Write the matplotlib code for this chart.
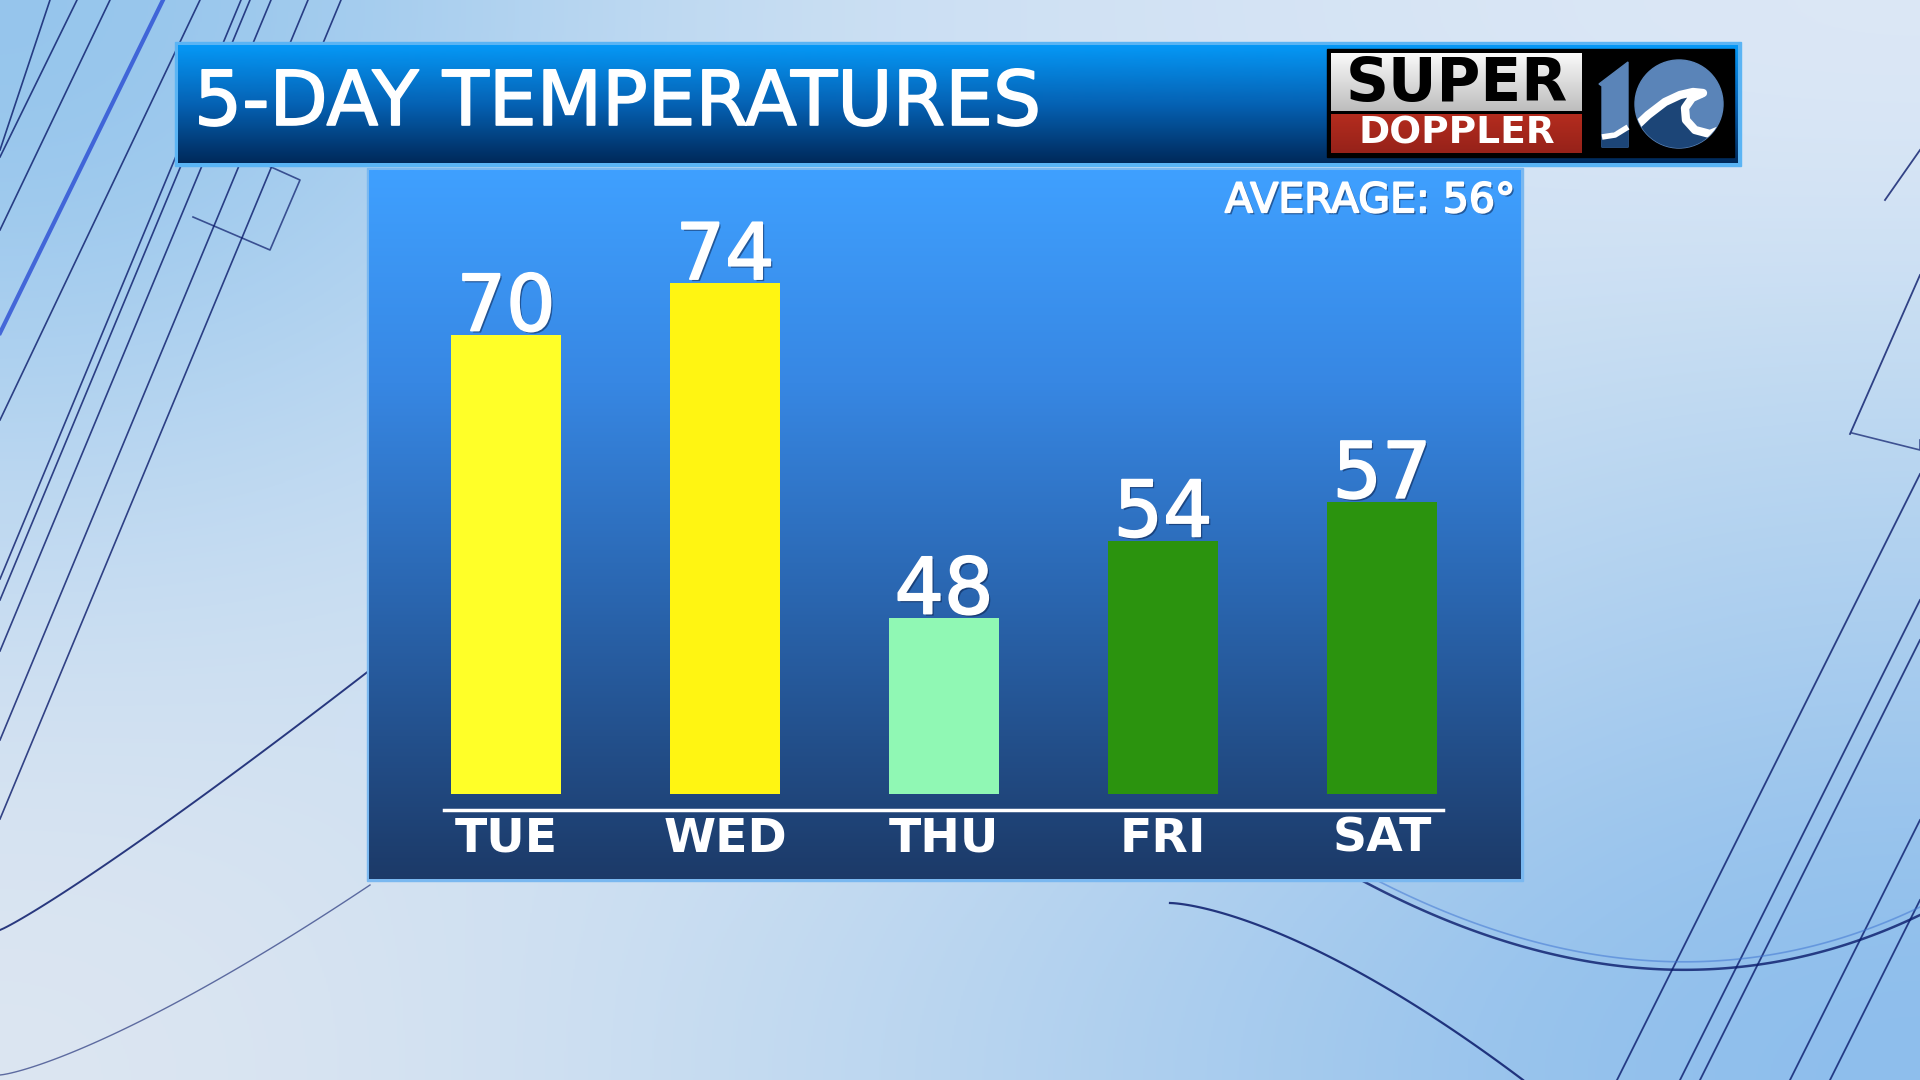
import numpy as np
import matplotlib.pyplot as plt
import matplotlib.patheffects as pe
from matplotlib.colors import LinearSegmentedColormap, to_rgb
from matplotlib.patches import Rectangle, Circle, Polygon

days = ['TUE', 'WED', 'THU', 'FRI', 'SAT']
temps = [70, 74, 48, 54, 57]
bar_colors = ['#ffff28', '#fff512', '#90f8b4', '#2b930e', '#2b930e']
avg_temp = 56
title = '5-DAY TEMPERATURES'

W, H = 1920, 1080
fig = plt.figure(figsize=(19.2, 10.8), dpi=100)

# background canvas in pixel coords (y down)
bg = fig.add_axes([0, 0, 1, 1])
bg.set_xlim(0, W); bg.set_ylim(H, 0); bg.axis('off')

grid = np.array([
    [to_rgb('#93c4ec'), to_rgb('#c8def3'), to_rgb('#d4e3f4'), to_rgb('#dde8f6')],
    [to_rgb('#b2d3f0'), to_rgb('#cfe1f3'), to_rgb('#cde0f3'), to_rgb('#bcd8f1')],
    [to_rgb('#cfe0f2'), to_rgb('#d3e3f3'), to_rgb('#bcd7f1'), to_rgb('#a6cbee')],
    [to_rgb('#dde6f2'), to_rgb('#c6dcf1'), to_rgb('#aacdee'), to_rgb('#8cbdec')],
])
bg.imshow(grid, extent=[0, W, H, 0], interpolation='bicubic', aspect='auto', zorder=0)

# decorative lines
navy = '#0a1a6a'
left_lines = [((0, 150), (50, 0)), ((0, 157), (77, 0)), ((0, 230), (110, 0)),
              ((0, 420), (200, 0)), ((0, 579), (241, 0)), ((0, 651), (271, 0)),
              ((0, 740), (308, 0)), ((0, 819), (341, 0)), ((0, 600), (250, 0))]
for (x0, y0), (x1, y1) in left_lines:
    bg.plot([x0, x1], [y0, y1], color=navy, lw=1.2, alpha=0.8, zorder=1)
bg.plot([0, 163], [333, 0], color='#1a3cd0', lw=3, alpha=0.7, zorder=1)
bg.plot([193, 270, 300, 222], [217, 250, 180, 145], color=navy, lw=1.2, alpha=0.7, zorder=1)
right_lines = [((1617, 1080), (1920, 474)), ((1680, 1080), (1920, 600)), ((1790, 1080), (1920, 820)),
               ((1830, 1080), (1920, 900)), ((1850, 434), (1920, 275)), ((1885, 200), (1920, 150)),
               ((1700, 1080), (1920, 640))]
for (x0, y0), (x1, y1) in right_lines:
    bg.plot([x0, x1], [y0, y1], color=navy, lw=1.3, alpha=0.8, zorder=1)
bg.plot([1852, 1920, 1920], [433, 450, 440], color=navy, lw=1.2, alpha=0.7, zorder=1)
t = np.linspace(0, 1, 100)
bg.plot(t * 370, 930 - 260 * t ** 1.1, color=navy, lw=1.4, alpha=0.85, zorder=1)
bg.plot(t * 370, 1075 - 190 * t ** 1.3, color=navy, lw=1.0, alpha=0.6, zorder=1)
bg.plot(1170 + 353 * t, 903 + 177 * t ** 1.5, color=navy, lw=1.6, alpha=0.85, zorder=1)
bx = (1 - t) ** 2 * 1361 + 2 * t * (1 - t) * 1660 + t ** 2 * 1920
by = (1 - t) ** 2 * 880 + 2 * t * (1 - t) * 1040 + t ** 2 * 915
bg.plot(bx, by, color=navy, lw=1.8, alpha=0.8, zorder=1)
bg.plot(bx, by - 8, color='#3a70d0', lw=1.2, alpha=0.5, zorder=1)

def vgrad(ax, x0, x1, y0, y1, stops, z):
    cmap = LinearSegmentedColormap.from_list('g', stops)
    arr = np.linspace(0, 1, 256).reshape(-1, 1)
    ax.imshow(arr, cmap=cmap, extent=[x0, x1, y1, y0], aspect='auto', zorder=z,
              interpolation='bilinear')

thick = [pe.Stroke(linewidth=1.2, foreground='white'), pe.Normal()]

# title banner
bg.add_patch(Rectangle((175, 42), 1566, 124, color='#5ab4f4', zorder=2))
vgrad(bg, 178, 1738, 45, 163, [(0, '#0598f6'), (0.5, '#0562b4'), (1, '#00295a')], 3)
bg.text(194, 104, title, color='white', fontsize=54.5, va='center', ha='left', zorder=5,
        path_effects=thick)

# logo
bg.add_patch(Rectangle((1327, 49), 407, 108, color='black', zorder=4))
vgrad(bg, 1331, 1582, 53, 111, [(0, '#fafafa'), (1, '#bdbdbd')], 5)
vgrad(bg, 1331, 1582, 114, 153, [(0, '#b42c1e'), (1, '#96221a')], 5)
bg.text(1457, 84, 'SUPER', color='black', fontsize=43, fontweight='bold',
        ha='center', va='center', zorder=6)
bg.text(1457, 134, 'DOPPLER', color='white', fontsize=27, fontweight='bold',
        ha='center', va='center', zorder=6)
bg.add_patch(Polygon([(1599, 84), (1628, 62), (1628, 147), (1602, 147), (1602, 86)],
                     color='#5a84b8', zorder=5))
bg.add_patch(Polygon([(1602, 138), (1628, 127), (1628, 147), (1602, 147)], color='#1c4577', zorder=6))
bg.plot([1602, 1615, 1628], [137, 135, 127], color='white', lw=4, zorder=7, solid_capstyle='butt')
circ = Circle((1679, 104), 44, color='#5a84b8', zorder=5)
bg.add_patch(circ)
cx = [1630, 1648, 1665, 1680, 1693, 1703, 1692, 1685, 1686, 1695, 1710, 1730]
cy = [132, 115, 102, 95, 92, 93, 98, 108, 120, 130, 134, 126]
wave = Polygon(list(zip(cx, cy)) + [(1730, 160), (1630, 160)], color='#1c4577', zorder=6)
bg.add_patch(wave)
wave.set_clip_path(circ)
crest = bg.plot(cx, cy, color='white', lw=6, zorder=7, solid_joinstyle='round')[0]
crest.set_clip_path(circ)

# chart panel
bg.add_patch(Rectangle((367, 168), 1156, 713, color='#7ab8f0', zorder=2))
vgrad(bg, 369, 1521, 170, 879,
      [(0, '#3fa0ff'), (0.3, '#3787e3'), (0.6, '#2a66b0'), (1, '#1c3a68')], 3)

# bar chart
x = np.arange(len(days))
ax = fig.add_axes([369 / W, (H - 794) / H, 1152 / W, 624 / H])
ax.patch.set_alpha(0)
ax.bar(x, temps, width=0.5, color=bar_colors, zorder=3)
ax.set_xlim(-0.626, 4.635)
ax.set_ylim(34.3, 82.8)
for s in ['top', 'left', 'right']:
    ax.spines[s].set_visible(False)
ax.spines['bottom'].set_position(('outward', 11.5))
ax.spines['bottom'].set_bounds(-0.283, 4.279)
ax.spines['bottom'].set_color('white')
ax.spines['bottom'].set_linewidth(2.5)
ax.set_yticks([])
ax.set_xticks(x, days)
ax.tick_params(axis='x', length=0, pad=5, labelsize=34, labelcolor='white')
for lbl in ax.get_xticklabels():
    lbl.set_fontweight('bold')

shadow = [pe.withSimplePatchShadow(offset=(1.5, -1.5), shadow_rgbFace='#0a1a40', alpha=0.5),
          pe.Stroke(linewidth=1.3, foreground='white'), pe.Normal()]
for xi, v in zip(x, temps):
    ax.annotate(str(v), (xi, v), xytext=(0, 3), textcoords='offset points',
                ha='center', va='baseline', fontsize=56, color='white', zorder=4,
                path_effects=shadow)

ax.text(0.9948, 0.9323, f'AVERAGE: {avg_temp}°', transform=ax.transAxes, ha='right',
        va='baseline', fontsize=29.5, color='white', path_effects=shadow)

plt.savefig('out.png', dpi=100)
